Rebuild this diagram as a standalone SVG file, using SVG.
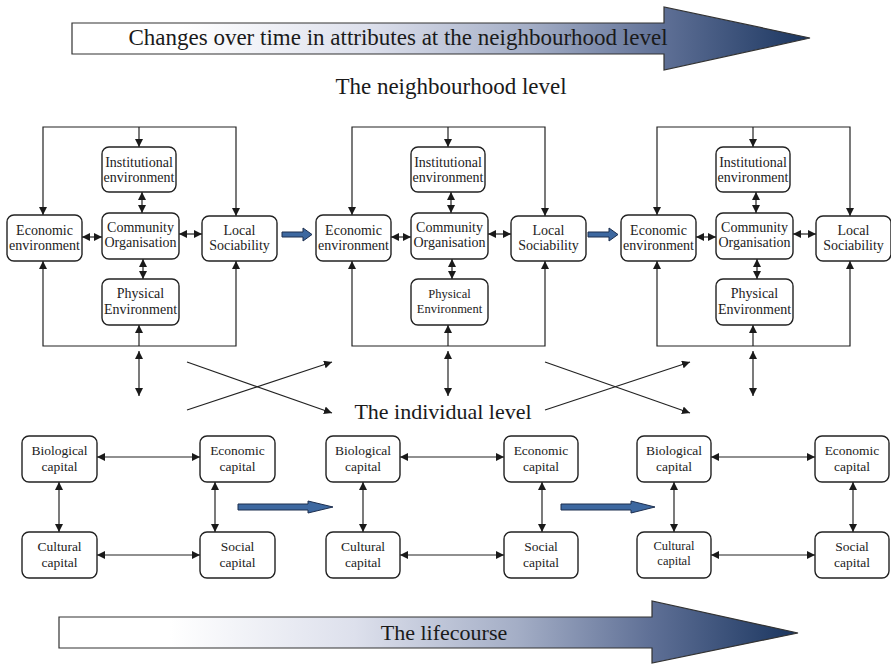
<svg xmlns="http://www.w3.org/2000/svg" width="891" height="664" viewBox="0 0 891 664">
<style>
.box{fill:#fff;stroke:#222;stroke-width:1.4}
.t{font-family:'Liberation Serif','Times New Roman',Times,'DejaVu Serif',serif;fill:#222;text-anchor:middle}
.n{font-size:14px}
.c{font-size:13.5px}
.big{font-family:'Liberation Serif','Times New Roman',Times,'DejaVu Serif',serif;fill:#1a1a1a;text-anchor:middle}
.ln{fill:none;stroke:#222;stroke-width:1.2}
.d{marker-start:url(#ah);marker-end:url(#ah)}
.e{marker-end:url(#ah)}
.blue{fill:#3d68a0;stroke:#1d2f4f;stroke-width:1}
.big-arrow{fill:url(#grad);stroke:#333;stroke-width:1.2}
</style>
<defs>
<linearGradient id="grad" x1="0" y1="0" x2="1" y2="0">
<stop offset="0" stop-color="#ffffff"/>
<stop offset="0.15" stop-color="#ffffff"/>
<stop offset="0.4" stop-color="#dde0ec"/>
<stop offset="0.62" stop-color="#a4aec6"/>
<stop offset="0.8" stop-color="#5f7096"/>
<stop offset="1" stop-color="#1a355f"/>
</linearGradient>
<marker id="ah" viewBox="0 0 10 10" refX="10" refY="5" markerWidth="8" markerHeight="8" markerUnits="userSpaceOnUse" orient="auto-start-reverse">
<path d="M0,0 L10,5 L0,10 z" fill="#1a1a1a"/>
</marker>
</defs>

<g id="time-arrow">
<polygon class="big-arrow" points="72,23 664,23 664,7 810,38 664,70 664,54 72,54"/>
<text class="big" x="398" y="45" font-size="23">Changes over time in attributes at the neighbourhood level</text>
</g>
<g id="neighbourhood-label"><text class="big" x="451" y="94" font-size="23">The neighbourhood level</text></g>
<g id="individual-label"><text class="big" x="443" y="419" font-size="22">The individual level</text></g>
<g id="lifecourse-arrow">
<polygon class="big-arrow" points="59,617 652,617 652,601 798,633 652,663 652,648 59,648"/>
<text class="big" x="444" y="640" font-size="22">The lifecourse</text>
</g>

<g id="connectors">
<g id="n1-conn">
<path class="ln d" d="M43,215 V127 H236 V216"/>
<path class="ln e" d="M139,127 V147"/>
<path class="ln d" d="M43,261 V346 H236 V261"/>
<path class="ln e" d="M139,346 V325"/>
<path class="ln d" d="M142,192 V213"/>
<path class="ln d" d="M143,259 V279"/>
<path class="ln d" d="M82,237 H102"/>
<path class="ln d" d="M179,234 H202"/>
<path class="ln d" d="M139,351 V396"/>
</g>
<g id="n2-conn" transform="translate(309,0)">
<path class="ln d" d="M43,215 V127 H236 V216"/>
<path class="ln e" d="M139,127 V147"/>
<path class="ln d" d="M43,261 V346 H236 V261"/>
<path class="ln e" d="M139,346 V325"/>
<path class="ln d" d="M142,192 V213"/>
<path class="ln d" d="M143,259 V279"/>
<path class="ln d" d="M82,237 H102"/>
<path class="ln d" d="M179,234 H202"/>
<path class="ln d" d="M139,351 V396"/>
</g>
<g id="n3-conn" transform="translate(614,0)">
<path class="ln d" d="M43,215 V127 H236 V216"/>
<path class="ln e" d="M139,127 V147"/>
<path class="ln d" d="M43,261 V346 H236 V261"/>
<path class="ln e" d="M139,346 V325"/>
<path class="ln d" d="M142,192 V213"/>
<path class="ln d" d="M143,259 V279"/>
<path class="ln d" d="M82,237 H102"/>
<path class="ln d" d="M179,234 H202"/>
<path class="ln d" d="M139,351 V396"/>
</g>
<g id="cross-conn">
<path class="ln e" d="M187,362 L332,413"/>
<path class="ln e" d="M187,410 L332,362"/>
<path class="ln e" d="M545,362 L690,413"/>
<path class="ln e" d="M545,410 L690,362"/>
</g>
<g id="i1-conn">
<path class="ln d" d="M97,457 H200"/>
<path class="ln d" d="M97,555 H200"/>
<path class="ln d" d="M59,482 V532"/>
<path class="ln d" d="M215,482 V532"/>
</g>
<g id="i2-conn" transform="translate(304,0)">
<path class="ln d" d="M96,457 H200"/>
<path class="ln d" d="M96,555 H200"/>
<path class="ln d" d="M59,482 V532"/>
<path class="ln d" d="M238,482 V532"/>
</g>
<g id="i3-conn" transform="translate(615,0)">
<path class="ln d" d="M96,457 H200"/>
<path class="ln d" d="M96,555 H200"/>
<path class="ln d" d="M59,482 V532"/>
<path class="ln d" d="M238,482 V532"/>
</g>
<g id="blue-arrows">
<polygon class="blue" points="282,232 303,232 303,228 312,234.5 303,241 303,237 282,237"/>
<polygon class="blue" points="588,232 609,232 609,228 618,234.5 609,241 609,237 588,237"/>
<polygon class="blue" points="238,504 308,504 308,501 333,507 308,513 308,510 238,510"/>
<polygon class="blue" points="561,504 631,504 631,501 655,507 631,513 631,510 561,510"/>
</g>
</g>

<g id="neighbourhood-1">
<g id="n1-inst"><rect class="box" x="102" y="147" width="74" height="45" rx="7"/><text class="t n" x="139" y="167">Institutional</text><text class="t n" x="139" y="182">environment</text></g>
<g id="n1-econ"><rect class="box" x="7" y="215" width="75" height="46" rx="7"/><text class="t n" x="44.5" y="235">Economic</text><text class="t n" x="44.5" y="250">environment</text></g>
<g id="n1-comm"><rect class="box" x="102" y="213" width="77" height="46" rx="7"/><text class="t n" x="140.5" y="232">Community</text><text class="t n" x="140.5" y="247">Organisation</text></g>
<g id="n1-local"><rect class="box" x="202" y="216" width="75" height="45" rx="7"/><text class="t n" x="239.5" y="235">Local</text><text class="t n" x="239.5" y="250">Sociability</text></g>
<g id="n1-phys"><rect class="box" x="102" y="279" width="77" height="46" rx="7"/><text class="t n" x="140.5" y="298">Physical</text><text class="t n" x="140.5" y="314">Environment</text></g>
</g>
<g id="neighbourhood-2" transform="translate(309,0)">
<g id="n2-inst"><rect class="box" x="102" y="147" width="74" height="45" rx="7"/><text class="t n" x="139" y="167">Institutional</text><text class="t n" x="139" y="182">environment</text></g>
<g id="n2-econ"><rect class="box" x="7" y="215" width="75" height="46" rx="7"/><text class="t n" x="44.5" y="235">Economic</text><text class="t n" x="44.5" y="250">environment</text></g>
<g id="n2-comm"><rect class="box" x="102" y="213" width="77" height="46" rx="7"/><text class="t n" x="140.5" y="232">Community</text><text class="t n" x="140.5" y="247">Organisation</text></g>
<g id="n2-local"><rect class="box" x="202" y="216" width="75" height="45" rx="7"/><text class="t n" x="239.5" y="235">Local</text><text class="t n" x="239.5" y="250">Sociability</text></g>
<g id="n2-phys"><rect class="box" x="102" y="279" width="77" height="46" rx="7"/><text class="t" font-size="12.5" x="140.5" y="298">Physical</text><text class="t" font-size="12.5" x="140.5" y="313">Environment</text></g>
</g>
<g id="neighbourhood-3" transform="translate(614,0)">
<g id="n3-inst"><rect class="box" x="102" y="147" width="74" height="45" rx="7"/><text class="t n" x="139" y="167">Institutional</text><text class="t n" x="139" y="182">environment</text></g>
<g id="n3-econ"><rect class="box" x="7" y="215" width="75" height="46" rx="7"/><text class="t n" x="44.5" y="235">Economic</text><text class="t n" x="44.5" y="250">environment</text></g>
<g id="n3-comm"><rect class="box" x="102" y="213" width="77" height="46" rx="7"/><text class="t n" x="140.5" y="232">Community</text><text class="t n" x="140.5" y="247">Organisation</text></g>
<g id="n3-local"><rect class="box" x="202" y="216" width="75" height="45" rx="7"/><text class="t n" x="239.5" y="235">Local</text><text class="t n" x="239.5" y="250">Sociability</text></g>
<g id="n3-phys"><rect class="box" x="102" y="279" width="77" height="46" rx="7"/><text class="t n" x="140.5" y="298">Physical</text><text class="t n" x="140.5" y="314">Environment</text></g>
</g>

<g id="individual-1">
<g id="i1-bio"><rect class="box" x="22" y="436" width="75" height="46" rx="7"/><text class="t c" x="59.5" y="455">Biological</text><text class="t c" x="59.5" y="471">capital</text></g>
<g id="i1-econ"><rect class="box" x="200" y="436" width="75" height="46" rx="7"/><text class="t c" x="237.5" y="455">Economic</text><text class="t c" x="237.5" y="471">capital</text></g>
<g id="i1-cult"><rect class="box" x="22" y="532" width="75" height="46" rx="7"/><text class="t c" x="59.5" y="551">Cultural</text><text class="t c" x="59.5" y="567">capital</text></g>
<g id="i1-soc"><rect class="box" x="200" y="532" width="75" height="46" rx="7"/><text class="t c" x="237.5" y="551">Social</text><text class="t c" x="237.5" y="567">capital</text></g>
</g>
<g id="individual-2" transform="translate(304,0)">
<g id="i2-bio"><rect class="box" x="22" y="436" width="74" height="46" rx="7"/><text class="t c" x="59" y="455">Biological</text><text class="t c" x="59" y="471">capital</text></g>
<g id="i2-econ"><rect class="box" x="200" y="436" width="74" height="46" rx="7"/><text class="t c" x="237" y="455">Economic</text><text class="t c" x="237" y="471">capital</text></g>
<g id="i2-cult"><rect class="box" x="22" y="532" width="74" height="46" rx="7"/><text class="t c" x="59" y="551">Cultural</text><text class="t c" x="59" y="567">capital</text></g>
<g id="i2-soc"><rect class="box" x="200" y="532" width="74" height="46" rx="7"/><text class="t c" x="237" y="551">Social</text><text class="t c" x="237" y="567">capital</text></g>
</g>
<g id="individual-3" transform="translate(615,0)">
<g id="i3-bio"><rect class="box" x="22" y="436" width="74" height="46" rx="7"/><text class="t c" x="59" y="455">Biological</text><text class="t c" x="59" y="471">capital</text></g>
<g id="i3-econ"><rect class="box" x="200" y="436" width="74" height="46" rx="7"/><text class="t c" x="237" y="455">Economic</text><text class="t c" x="237" y="471">capital</text></g>
<g id="i3-cult"><rect class="box" x="22" y="532" width="74" height="46" rx="7"/><text class="t" font-size="12.5" x="59" y="550">Cultural</text><text class="t" font-size="12.5" x="59" y="565">capital</text></g>
<g id="i3-soc"><rect class="box" x="200" y="532" width="74" height="46" rx="7"/><text class="t c" x="237" y="551">Social</text><text class="t c" x="237" y="567">capital</text></g>
</g>
</svg>
